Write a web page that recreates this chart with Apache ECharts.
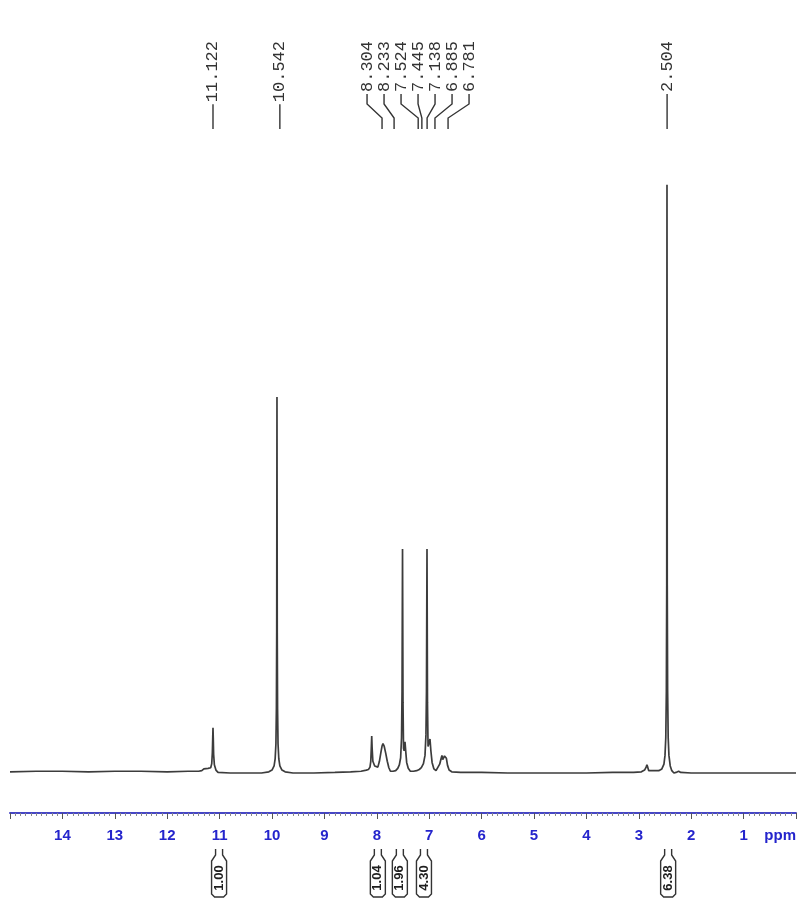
<!DOCTYPE html>
<html>
<head>
<meta charset="utf-8">
<script src="https://cdn.jsdelivr.net/npm/echarts@6.0.0/dist/echarts.min.js"></script>
<style>
  html, body { margin: 0; padding: 0; background: #ffffff; }
  #chart { width: 800px; height: 901px; }
</style>
</head>
<body>
<div id="chart"></div>
<script>
// 1H NMR trace: [chemical shift (ppm), relative intensity]
const spectrum = [
  [15.00, 0.2], [14.50, 0.3], [14.00, 0.3], [13.50, 0.2], [13.00, 0.3], [12.50, 0.3], [12.00, 0.2],
  [11.60, 0.3], [11.40, 0.3], [11.34, 0.4], [11.30, 0.7], [11.22, 0.8], [11.17, 0.9], [11.15, 1.6],
  [11.138, 3.5], [11.131, 6.0], [11.126, 7.7], [11.121, 6.0], [11.114, 3.2], [11.10, 1.4], [11.07, 0.5],
  [11.03, 0.1], [10.80, 0.0], [10.50, 0.0], [10.20, 0.0], [10.06, 0.2], [10.00, 0.5], [9.96, 1.2],
  [9.94, 2.4], [9.925, 5.0], [9.916, 11.0], [9.910, 24.0], [9.905, 64.1], [9.900, 24.0], [9.894, 11.0],
  [9.885, 5.0], [9.87, 2.4], [9.85, 1.2], [9.81, 0.5], [9.75, 0.2], [9.60, 0.0], [9.20, 0.0], [8.80, 0.1],
  [8.50, 0.2], [8.30, 0.3], [8.20, 0.5],
  [8.16, 0.6], [8.13, 1.0], [8.115, 2.0], [8.105, 4.2], [8.097, 6.3], [8.089, 4.2], [8.075, 2.0],
  [8.04, 1.2], [7.98, 1.0], [7.95, 2.0], [7.92, 3.6], [7.90, 4.6], [7.882, 5.0], [7.86, 4.6], [7.83, 3.4],
  [7.80, 2.0], [7.77, 0.9], [7.74, 0.3], [7.69, 0.3], [7.64, 0.4], [7.60, 0.8], [7.57, 1.4], [7.545, 2.6],
  [7.528, 6.0], [7.518, 14.0], [7.509, 38.2], [7.500, 12.0], [7.490, 4.2], [7.478, 3.8], [7.462, 5.3],
  [7.447, 3.6], [7.43, 1.8], [7.40, 0.8], [7.36, 0.3], [7.30, 0.3], [7.24, 0.4], [7.19, 0.6], [7.15, 0.9],
  [7.11, 1.6], [7.080, 3.0], [7.062, 6.5], [7.052, 14.0], [7.042, 38.2], [7.033, 12.0], [7.022, 4.5],
  [7.005, 4.2], [6.985, 5.8], [6.968, 3.8], [6.945, 1.8], [6.91, 0.7], [6.87, 0.4], [6.84, 0.7], [6.80, 1.5],
  [6.775, 2.4], [6.757, 3.0], [6.742, 2.3], [6.727, 2.2], [6.708, 2.9], [6.690, 3.2], [6.672, 2.5],
  [6.65, 1.3], [6.62, 0.5], [6.57, 0.2], [6.40, 0.1],
  [6.00, 0.1], [5.50, 0.0], [5.00, 0.0], [4.50, 0.0], [4.00, 0.0], [3.50, 0.1], [3.10, 0.1], [2.95, 0.2],
  [2.89, 0.5], [2.86, 1.0], [2.845, 1.4], [2.83, 1.0], [2.81, 0.4], [2.78, 0.3], [2.72, 0.4], [2.62, 0.4],
  [2.56, 0.7], [2.52, 1.5], [2.50, 3.0], [2.485, 6.0], [2.474, 14.0], [2.467, 32.0], [2.462, 100.3],
  [2.457, 32.0], [2.450, 14.0], [2.439, 6.0], [2.425, 3.0], [2.40, 1.2], [2.37, 0.4], [2.33, 0.0],
  [2.29, 0.1], [2.24, 0.3], [2.20, 0.1], [2.00, 0.0], [1.50, 0.0], [1.00, 0.0], [0.50, 0.0], [0.00, 0.0]
];

// Peak picks: printed shift, and where each leader line meets the trace (ppm)
const pickLabels = ['11.122', '10.542', '8.304', '8.233', '7.524', '7.445', '7.138', '6.885', '6.781', '2.504'];
const pickPpm = [11.126, 9.85, 7.90, 7.67, 7.21, 7.14, 7.04, 6.89, 6.64, 2.46];

// Integrals: printed area and centre of the integrated region (ppm)
const integralLabels = ['1.00', '1.04', '1.96', '4.30', '6.38'];
const integralPpm = [11.01, 7.98, 7.56, 7.10, 2.44];

// Shift axis: range, major step, unit shown at the low-field end
const ppmMin = 0;
const ppmMax = 15;
const ppmStep = 1;
const ppmUnit = 'ppm';

const PICK_FONT = '17px "Liberation Mono", "DejaVu Sans Mono", monospace';
const INTEGRAL_FONT = 'bold 13px "Liberation Sans", Arial, sans-serif';
const INK = '#333333';
const PICK_GAP = 17;

const measureCtx = document.createElement('canvas').getContext('2d');
function textWidth(str, font) {
  measureCtx.font = font;
  return measureCtx.measureText(str).width;
}

// Spread crowded labels apart, keeping each group centred over its targets
function spreadLabels(xs, gap) {
  const groups = xs.map(x => ({ sum: x, n: 1 }));
  const span = g => {
    const c = g.sum / g.n;
    const h = (g.n - 1) * gap / 2;
    return [c - h, c + h];
  };
  let merged = true;
  while (merged) {
    merged = false;
    for (let k = 0; k < groups.length - 1; k++) {
      if (span(groups[k + 1])[0] - span(groups[k])[1] < gap) {
        groups.splice(k, 2, { sum: groups[k].sum + groups[k + 1].sum, n: groups[k].n + groups[k + 1].n });
        merged = true;
        break;
      }
    }
  }
  const out = [];
  groups.forEach(g => {
    const s = span(g)[0];
    for (let j = 0; j < g.n; j++) out.push(s + j * gap);
  });
  return out;
}

function renderPick(params, api) {
  const i = params.dataIndex;
  const top = params.coordSys.y;
  const targets = pickPpm.map(p => api.coord([p, 0])[0]);
  const lx = spreadLabels(targets, PICK_GAP)[i];
  const tx = targets[i];
  const w = textWidth(pickLabels[i], PICK_FONT);
  const start = top + w + 3;
  const bend = Math.max(start, top + 64);
  return {
    type: 'group',
    children: [
      {
        type: 'text',
        x: lx,
        y: top + 1,
        rotation: Math.PI / 2,
        style: {
          text: pickLabels[i],
          font: PICK_FONT,
          fill: INK,
          align: 'right',
          verticalAlign: 'middle'
        }
      },
      {
        type: 'polyline',
        shape: { points: [[lx, start], [lx, bend], [tx, top + 78], [tx, top + 89]] },
        style: { stroke: INK, lineWidth: 1.4, fill: null }
      }
    ]
  };
}

function renderIntegral(params, api) {
  const i = params.dataIndex;
  const base = params.coordSys.y + params.coordSys.height;
  const cx = api.coord([integralPpm[i], 0])[0];
  const nw = 3.5, bw = 7.5;
  const pts = [
    [cx - nw, base + 76], [cx - nw, base + 82], [cx - bw, base + 88], [cx - bw, base + 121],
    [cx - bw + 3, base + 124], [cx + bw - 3, base + 124], [cx + bw, base + 121], [cx + bw, base + 88],
    [cx + nw, base + 82], [cx + nw, base + 76]
  ];
  return {
    type: 'group',
    children: [
      {
        type: 'polyline',
        shape: { points: pts },
        style: { stroke: '#333333', lineWidth: 1.4, fill: null }
      },
      {
        type: 'text',
        x: cx,
        y: base + 105,
        rotation: Math.PI / 2,
        style: {
          text: integralLabels[i],
          font: INTEGRAL_FONT,
          fill: '#1e1e1e',
          align: 'center',
          verticalAlign: 'middle'
        }
      }
    ]
  };
}

const chart = echarts.init(document.getElementById('chart'), null, { renderer: 'canvas' });

chart.setOption({
  animation: false,
  backgroundColor: '#ffffff',
  grid: { left: 10, right: 4, top: 40, bottom: 128, outerBoundsMode: 'none', containLabel: false },
  xAxis: {
    type: 'value',
    min: ppmMin,
    max: ppmMax,
    interval: ppmStep,
    inverse: true,
    position: 'bottom',
    offset: 40,
    axisLine: { show: true, onZero: false, lineStyle: { color: '#4646c4', width: 2 } },
    axisTick: { show: true, length: 6, lineStyle: { color: '#555555', width: 1 } },
    minorTick: { show: true, splitNumber: 10, length: 3, lineStyle: { color: '#888888', width: 1 } },
    splitLine: { show: false },
    minorSplitLine: { show: false },
    axisLabel: {
      margin: 15,
      color: '#2424cc',
      fontWeight: 'bold',
      fontSize: 15,
      fontFamily: '"Liberation Sans", Arial, sans-serif',
      showMinLabel: true,
      showMaxLabel: true,
      alignMinLabel: 'right',
      formatter: v => (v === ppmMax ? '' : v === ppmMin ? ppmUnit : String(v))
    }
  },
  yAxis: { type: 'value', min: 0, max: 125, show: false },
  series: [
    {
      type: 'line',
      data: spectrum,
      showSymbol: false,
      clip: false,
      lineStyle: { color: '#3c3c3c', width: 1.7 },
      silent: true
    },
    {
      type: 'custom',
      data: pickPpm.map(p => [p, 0]),
      renderItem: renderPick,
      clip: false,
      silent: true
    },
    {
      type: 'custom',
      data: integralPpm.map(p => [p, 0]),
      renderItem: renderIntegral,
      clip: false,
      silent: true
    }
  ]
});
</script>
</body>
</html>
